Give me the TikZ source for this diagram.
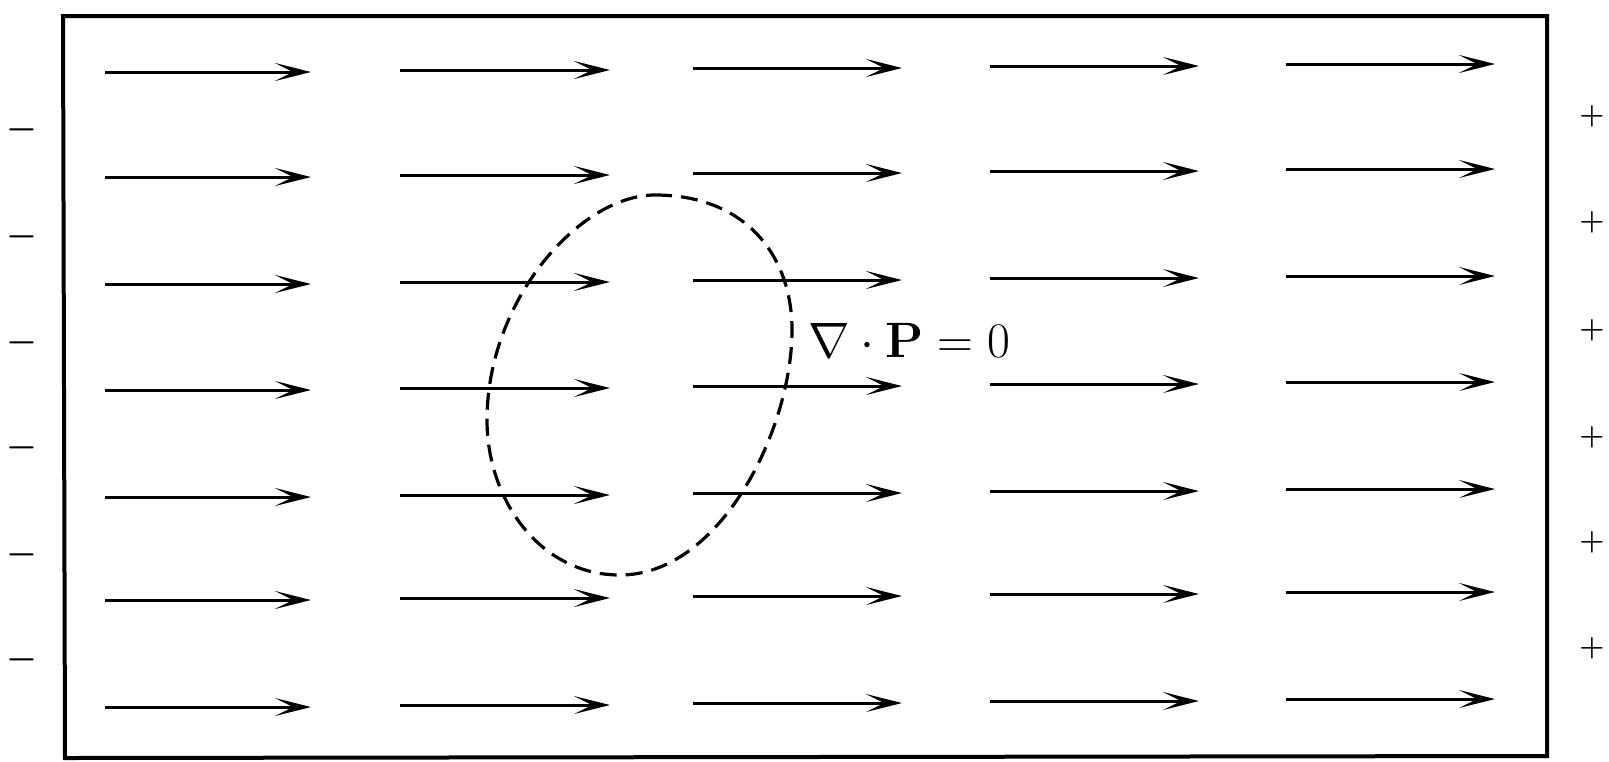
\documentclass[tikz,border=0pt]{standalone}
\usetikzlibrary{arrows.meta}
\begin{document}
\begin{tikzpicture}[x=0.5pt,y=-0.5pt,
  field/.style={line width=1.5pt,-{Stealth[length=18pt,width=9pt,inset=9pt]}},
  frame/.style={line width=2pt,line join=miter},
  surface/.style={line width=1.6pt,dash pattern=on 8.5pt off 4.5pt},
  minus/.style={inner sep=0pt,anchor=base,font=\fontsize{18}{18}\selectfont\boldmath},
  plus/.style={inner sep=0pt,anchor=base,font=\fontsize{14}{14}\selectfont\boldmath},
  eq/.style={inner sep=0pt,anchor=base west,font=\fontsize{33}{38}\selectfont}]
\useasboundingbox (0,0) rectangle (1609,761);
\draw[frame] (63,16) -- (1547,16) -- (1547,756) -- (65,758) -- cycle;
% field arrows
\foreach \r/\y in {1/72,2/177,3/284,4/390,5/497,6/600,7/707}{
  \foreach \c/\xa/\xb in {1/105/311,2/400/610,3/693/902,4/990/1199,5/1286/1495}{
    \draw[field] (\xa,{\y-2*(\c-1)}) -- (\xb,{\y-2*(\c-1)});
  }
}
% dashed surface
\draw[surface] (655,195) .. controls (745,195) and (792,255) .. (792,330)
  .. controls (792,430) and (720,575) .. (620,575)
  .. controls (540,575) and (487,500) .. (487,420)
  .. controls (487,300) and (580,195) .. (655,195) -- cycle;
% equation
\node[eq] (eqn) at (808,357) {$\nabla\cdot\mathbf{P}=0$};
% minus signs
\foreach \i/\y in {1/129,2/236,3/342,4/447,5/554,6/659}{
  \node[minus] (m\i) at (22,{\y+9}) {$-$};
}
% plus signs
\foreach \i/\y in {1/116,2/222,3/330,4/437,5/542,6/648}{
  \node[plus] (p\i) at (1592,{\y+7}) {$+$};
}
\end{tikzpicture}
\end{document}
